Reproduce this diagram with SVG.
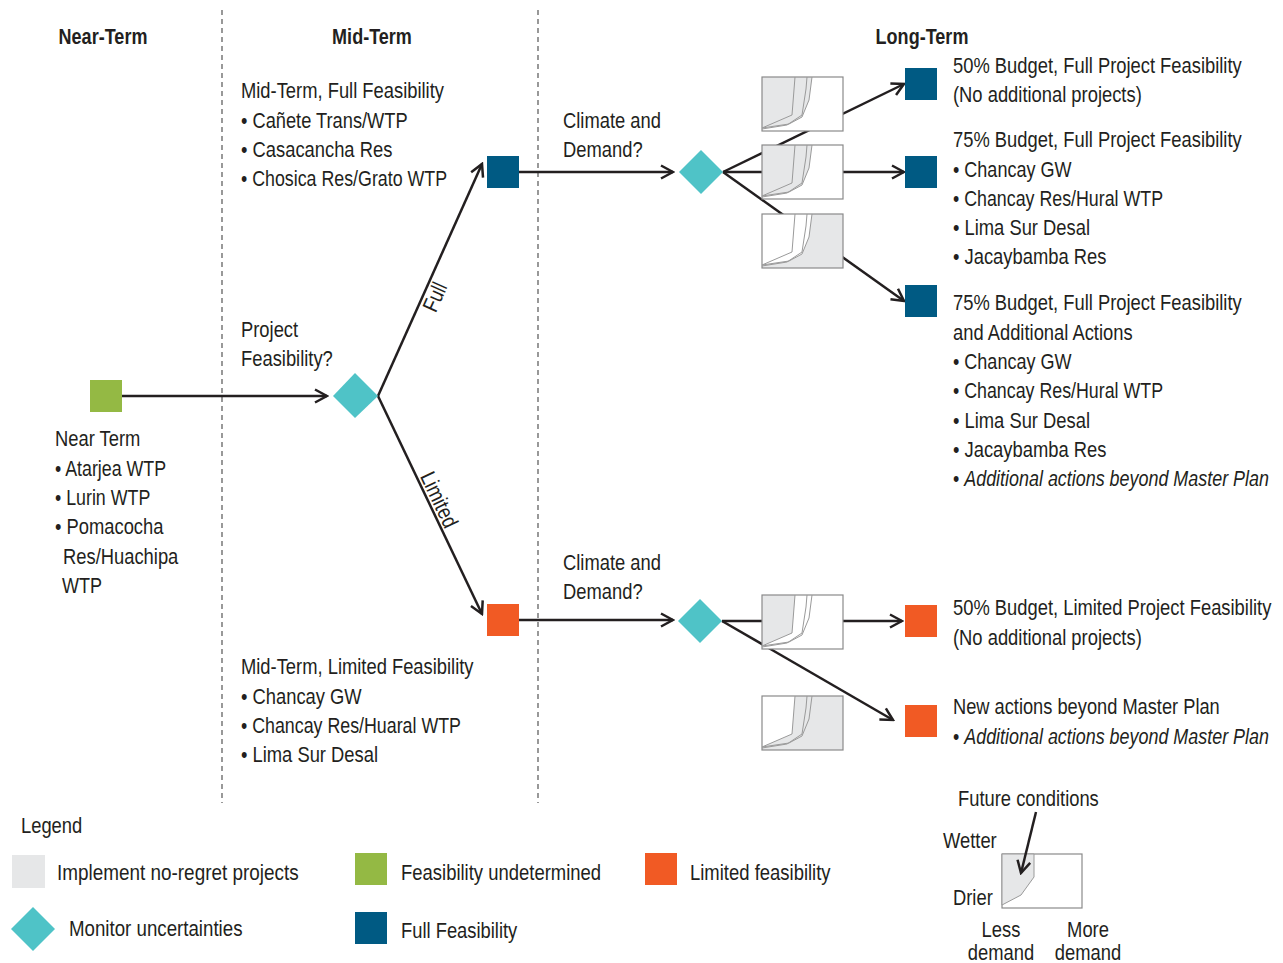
<svg xmlns="http://www.w3.org/2000/svg" width="1283" height="963" viewBox="0 0 1283 963">
<style>
.t{font-family:"Liberation Sans",Arial,sans-serif;font-size:22px;fill:#231f20}
.h{font-weight:bold;text-anchor:middle}
.m{text-anchor:middle}
.i{font-style:italic}
.ln{stroke:#231f20;stroke-width:2.5;fill:none}
.dash{stroke:#555;stroke-width:1.2;stroke-dasharray:5 4;fill:none}
.green{fill:#94b944}
.blue{fill:#005a83}
.orange{fill:#f15a24}
.teal{fill:#4fc3c7}
.gray{fill:#e6e7e8}
.frame{fill:#fff;stroke:#8a8a8a;stroke-width:1.2}
.cv{fill:none;stroke:#9a9a9a;stroke-width:1}
</style>
<defs>
<marker id="arr" viewBox="0 0 16 16" refX="14" refY="8" markerWidth="16" markerHeight="16" markerUnits="userSpaceOnUse" orient="auto">
<path d="M2,1.5 L14,8 L2,14.5" fill="none" stroke="#231f20" stroke-width="2.5"/>
</marker>
<g id="curves">
<rect x="0" y="0" width="81" height="54" fill="none" stroke="#8a8a8a" stroke-width="1.2"/>
<path class="cv" d="M33,0 L30,38 L0,51"/>
<path class="cv" d="M45,0 L44,12 L40,38 L25,48 L0,52"/>
<path class="cv" d="M50,0 L47,23 L40,40 L27,47 L0,51"/>
</g>
<path id="leftC" class="gray" d="M0,0 L50,0 L47,23 L40,40 L27,47 L0,51 Z"/>
<path id="rightC" class="gray" d="M50,0 L81,0 L81,54 L0,54 L0,51 L27,47 L40,40 L47,23 Z"/>
<path id="leftA" class="gray" d="M0,0 L33,0 L30,38 L0,51 Z"/>
<path id="rightA" class="gray" d="M33,0 L81,0 L81,54 L0,54 L0,51 L30,38 Z"/>
</defs>

<g id="columns">
<line class="dash" x1="222" y1="10" x2="222" y2="803"/>
<line class="dash" x1="538" y1="10" x2="538" y2="803"/>
<text class="t h" transform="translate(103,44) scale(0.82,1)">Near-Term</text>
<text class="t h" transform="translate(372,44) scale(0.82,1)">Mid-Term</text>
<text class="t h" transform="translate(922,44) scale(0.82,1)">Long-Term</text>
</g>

<g id="connectors">
<line class="ln" x1="122" y1="396" x2="327" y2="396" marker-end="url(#arr)"/>
<line class="ln" x1="378" y1="396" x2="482" y2="164" marker-end="url(#arr)"/>
<line class="ln" x1="378" y1="396" x2="482" y2="614" marker-end="url(#arr)"/>
<line class="ln" x1="519" y1="172" x2="673" y2="172" marker-end="url(#arr)"/>
<line class="ln" x1="723" y1="172" x2="904" y2="84" marker-end="url(#arr)"/>
<line class="ln" x1="723" y1="172" x2="904" y2="172" marker-end="url(#arr)"/>
<line class="ln" x1="723" y1="172" x2="904" y2="301" marker-end="url(#arr)"/>
<line class="ln" x1="519" y1="620" x2="673" y2="620" marker-end="url(#arr)"/>
<line class="ln" x1="722" y1="621" x2="902" y2="621" marker-end="url(#arr)"/>
<line class="ln" x1="722" y1="621" x2="893" y2="720" marker-end="url(#arr)"/>
<text class="t m" transform="translate(441.7,300) rotate(-65.9) scale(0.835,1)">Full</text>
<text class="t m" transform="translate(432.5,503) rotate(64.5) scale(0.835,1)">Limited</text>
</g>

<g id="near-term">
<rect class="green" x="90" y="380" width="32" height="32"/>
<text class="t" transform="translate(55,446) scale(0.835,1)">Near Term</text>
<text class="t" transform="translate(55,476) scale(0.81,1)">• Atarjea WTP</text>
<text class="t" transform="translate(55,505) scale(0.81,1)">• Lurin WTP</text>
<text class="t" transform="translate(55,534) scale(0.835,1)">• Pomacocha</text>
<text class="t" transform="translate(63,564) scale(0.835,1)">Res/Huachipa</text>
<text class="t" transform="translate(62,593) scale(0.82,1)">WTP</text>
</g>

<g id="project-feasibility">
<path class="teal" d="M355,373 L378,396 L355,418 L333,396 Z"/>
<text class="t" transform="translate(241,337) scale(0.835,1)">Project</text>
<text class="t" transform="translate(241,366) scale(0.835,1)">Feasibility?</text>
</g>

<g id="mid-full">
<rect class="blue" x="487" y="156" width="32" height="32"/>
<text class="t" transform="translate(241,98) scale(0.835,1)">Mid-Term, Full Feasibility</text>
<text class="t" transform="translate(241,128) scale(0.83,1)">• Cañete Trans/WTP</text>
<text class="t" transform="translate(241,157) scale(0.835,1)">• Casacancha Res</text>
<text class="t" transform="translate(241,186) scale(0.81,1)">• Chosica Res/Grato WTP</text>
</g>

<g id="mid-limited">
<rect class="orange" x="487" y="604" width="32" height="32"/>
<text class="t" transform="translate(241,674) scale(0.835,1)">Mid-Term, Limited Feasibility</text>
<text class="t" transform="translate(241,704) scale(0.835,1)">• Chancay GW</text>
<text class="t" transform="translate(241,733) scale(0.81,1)">• Chancay Res/Huaral WTP</text>
<text class="t" transform="translate(241,762) scale(0.835,1)">• Lima Sur Desal</text>
</g>

<g id="climate-full">
<path class="teal" d="M701,150 L723,172 L701,194 L679,172 Z"/>
<text class="t" transform="translate(563,128) scale(0.835,1)">Climate and</text>
<text class="t" transform="translate(563,157) scale(0.835,1)">Demand?</text>
</g>

<g id="climate-limited">
<path class="teal" d="M700,599 L722,621 L700,643 L678,621 Z"/>
<text class="t" transform="translate(563,570) scale(0.835,1)">Climate and</text>
<text class="t" transform="translate(563,599) scale(0.835,1)">Demand?</text>
</g>

<g id="thumb-1" transform="translate(762,77)">
<rect x="0" y="0" width="81" height="54" fill="#fff"/>
<use href="#leftC"/><use href="#curves"/>
</g>
<g id="thumb-2" transform="translate(762,145)">
<rect x="0" y="0" width="81" height="54" fill="#fff"/>
<use href="#leftC"/><use href="#curves"/>
</g>
<g id="thumb-3" transform="translate(762,214)">
<rect x="0" y="0" width="81" height="54" fill="#fff"/>
<use href="#rightC"/><use href="#curves"/>
</g>
<g id="thumb-4" transform="translate(762,595)">
<rect x="0" y="0" width="81" height="54" fill="#fff"/>
<use href="#leftA"/><use href="#curves"/>
</g>
<g id="thumb-5" transform="translate(762,696)">
<rect x="0" y="0" width="81" height="54" fill="#fff"/>
<use href="#rightA"/><use href="#curves"/>
</g>

<g id="long-50-full">
<rect class="blue" x="905" y="68" width="32" height="32"/>
<text class="t" transform="translate(953,73) scale(0.835,1)">50% Budget, Full Project Feasibility</text>
<text class="t" transform="translate(953,102) scale(0.835,1)">(No additional projects)</text>
</g>

<g id="long-75-full">
<rect class="blue" x="905" y="156" width="32" height="32"/>
<text class="t" transform="translate(953,147) scale(0.835,1)">75% Budget, Full Project Feasibility</text>
<text class="t" transform="translate(953,177) scale(0.82,1)">• Chancay GW</text>
<text class="t" transform="translate(953,206) scale(0.81,1)">• Chancay Res/Hural WTP</text>
<text class="t" transform="translate(953,235) scale(0.835,1)">• Lima Sur Desal</text>
<text class="t" transform="translate(953,264) scale(0.835,1)">• Jacaybamba Res</text>
</g>

<g id="long-75-additional">
<rect class="blue" x="905" y="285" width="32" height="32"/>
<text class="t" transform="translate(953,310) scale(0.835,1)">75% Budget, Full Project Feasibility</text>
<text class="t" transform="translate(953,340) scale(0.835,1)">and Additional Actions</text>
<text class="t" transform="translate(953,369) scale(0.82,1)">• Chancay GW</text>
<text class="t" transform="translate(953,398) scale(0.81,1)">• Chancay Res/Hural WTP</text>
<text class="t" transform="translate(953,428) scale(0.835,1)">• Lima Sur Desal</text>
<text class="t" transform="translate(953,457) scale(0.835,1)">• Jacaybamba Res</text>
<text class="t" transform="translate(953,486) scale(0.815,1)">• <tspan class="i">Additional actions beyond Master Plan</tspan></text>
</g>

<g id="long-50-limited">
<rect class="orange" x="905" y="605" width="32" height="32"/>
<text class="t" transform="translate(953,615) scale(0.835,1)">50% Budget, Limited Project Feasibility</text>
<text class="t" transform="translate(953,645) scale(0.835,1)">(No additional projects)</text>
</g>

<g id="long-new-actions">
<rect class="orange" x="905" y="705" width="32" height="32"/>
<text class="t" transform="translate(953,714) scale(0.83,1)">New actions beyond Master Plan</text>
<text class="t" transform="translate(953,744) scale(0.815,1)">• <tspan class="i">Additional actions beyond Master Plan</tspan></text>
</g>

<g id="legend">
<text class="t" transform="translate(21,833) scale(0.835,1)">Legend</text>
<rect class="gray" x="12" y="855" width="33" height="33"/>
<text class="t" transform="translate(57,880) scale(0.86,1)">Implement no-regret projects</text>
<path class="teal" d="M33,907 L55,929 L33,951 L11,929 Z"/>
<text class="t" transform="translate(69,936) scale(0.85,1)">Monitor uncertainties</text>
<rect class="green" x="355" y="853" width="32" height="32"/>
<text class="t" transform="translate(401,880) scale(0.84,1)">Feasibility undetermined</text>
<rect class="blue" x="355" y="912" width="32" height="32"/>
<text class="t" transform="translate(401,938) scale(0.835,1)">Full Feasibility</text>
<rect class="orange" x="645" y="853" width="32" height="32"/>
<text class="t" transform="translate(690,880) scale(0.84,1)">Limited feasibility</text>
</g>

<g id="legend-chart">
<rect class="frame" x="1002" y="854" width="80" height="54"/>
<path class="gray" d="M1002,854 L1034,854 L1034,877 L1021,895 L1002,905 Z" stroke="#9a9a9a" stroke-width="1"/>
<line class="ln" x1="1036" y1="812" x2="1021" y2="873" marker-end="url(#arr)"/>
<text class="t" transform="translate(958,806) scale(0.835,1)">Future conditions</text>
<text class="t" transform="translate(943,848) scale(0.835,1)">Wetter</text>
<text class="t" transform="translate(953,905) scale(0.835,1)">Drier</text>
<text class="t m" transform="translate(1001,937) scale(0.835,1)">Less</text>
<text class="t m" transform="translate(1001,960) scale(0.835,1)">demand</text>
<text class="t m" transform="translate(1088,937) scale(0.835,1)">More</text>
<text class="t m" transform="translate(1088,960) scale(0.835,1)">demand</text>
</g>
</svg>
